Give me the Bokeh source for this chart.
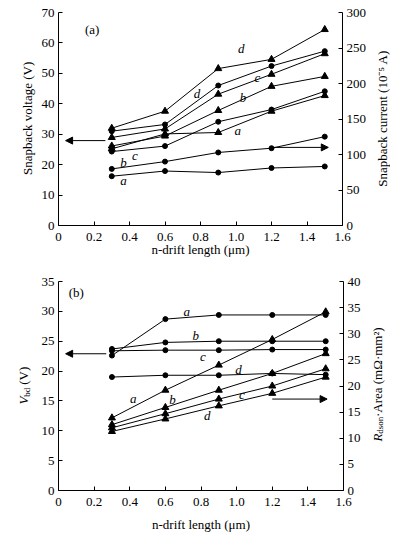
from math import pi
from bokeh.plotting import figure
from bokeh.models import (Range1d, LinearAxis, Label, Arrow, NormalHead,
                          FixedTicker, CustomJSTickFormatter)
from bokeh.layouts import column, row
from bokeh.embed import file_html
from bokeh.resources import INLINE

FONT = "Liberation Serif"

drift = [0.3, 0.6, 0.9, 1.2, 1.5]
x_ticks = [0, 0.2, 0.4, 0.6, 0.8, 1.0, 1.2, 1.4, 1.6]

# (a) snapback voltage (V) - circles, left axis
sv_a = [16.2, 17.9, 17.4, 18.9, 19.4]
sv_b = [18.6, 21.0, 24.0, 25.4, 29.2]
sv_c = [24.3, 26.1, 34.1, 38.1, 44.1]
sv_d = [31.0, 33.2, 46.0, 52.4, 57.3]
# (a) snapback current (1e-5 A) - triangles, right axis
si_a = [108, 129, 131, 161, 183]
si_b = [112, 126, 162, 196, 210]
si_c = [124, 136, 185, 213, 242]
si_d = [137, 161, 221, 234, 276]

# (b) breakdown voltage (V) - circles, left axis
vbd_a = [22.6, 28.7, 29.4, 29.4, 29.4]
vbd_b = [23.7, 24.8, 25.0, 25.0, 25.0]
vbd_c = [23.4, 23.5, 23.5, 23.6, 23.6]
vbd_d = [19.0, 19.3, 19.3, 19.6, 19.4]
# (b) Rdson*Area (mOhm mm^2) - triangles, right axis
ron_a = [13.9, 19.2, 24.0, 28.9, 34.2]
ron_b = [12.6, 15.9, 19.2, 22.4, 26.2]
ron_c = [12.0, 14.7, 17.5, 20.0, 23.3]
ron_d = [11.3, 13.7, 16.2, 18.6, 21.7]

top_left_ticks = list(range(0, 71, 10))
top_right_ticks = list(range(0, 301, 50))
bot_left_ticks = list(range(0, 36, 5))
bot_right_ticks = list(range(0, 41, 5))

LW, MW, RW = 36, 333, 21


def style_axis(ax, ticks, standoff=4):
    ax.ticker = FixedTicker(ticks=ticks)
    ax.axis_line_color = "black"
    ax.axis_line_width = 1
    ax.major_tick_in = 4
    ax.major_tick_out = 0
    ax.minor_tick_in = 0
    ax.minor_tick_out = 0
    ax.major_tick_line_color = "black"
    ax.major_label_text_font = FONT
    ax.major_label_text_font_size = "13px"
    ax.major_label_text_color = "black"
    ax.major_label_standoff = standoff


def make_fig(h, ymax_l, ymax_r, lt, rt, bt, bb, lab_standoff):
    p = figure(width=MW, height=h, x_range=Range1d(0, 1.6),
               y_range=Range1d(0, ymax_l), output_backend="svg",
               toolbar_location=None, min_border_left=22,
               min_border_right=26, min_border_top=bt, min_border_bottom=bb)
    p.extra_y_ranges = {"r": Range1d(0, ymax_r)}
    p.add_layout(LinearAxis(y_range_name="r"), "right")
    p.xgrid.grid_line_color = None
    p.ygrid.grid_line_color = None
    p.outline_line_color = None
    style_axis(p.xaxis[0], x_ticks, 7)
    p.xaxis[0].formatter = CustomJSTickFormatter(
        code="return tick == 0 ? '0' : tick.toFixed(1);")
    style_axis(p.yaxis[0], lt)
    style_axis(p.yaxis[1], rt)
    p.xaxis[0].axis_label = "n-drift length (\u03bcm)"
    p.xaxis[0].axis_label_text_font = FONT
    p.xaxis[0].axis_label_text_font_size = "13px"
    p.xaxis[0].axis_label_text_font_style = "normal"
    p.xaxis[0].axis_label_text_color = "black"
    p.xaxis[0].axis_label_standoff = lab_standoff
    return p


def side_fig(w, h, ymax, bt, bb):
    s = figure(width=w, height=h, x_range=Range1d(0, w),
               y_range=Range1d(0, ymax), x_axis_type=None, y_axis_type=None,
               output_backend="svg", toolbar_location=None,
               min_border_left=0, min_border_right=0, min_border_top=bt,
               min_border_bottom=bb)
    s.grid.visible = False
    s.outline_line_color = None
    return s


def add_series(p, ys, marker, size, rname=None):
    kw = {} if rname is None else {"y_range_name": rname}
    p.line(drift, ys, line_color="black", line_width=1, **kw)
    p.scatter(drift, ys, marker=marker, size=size, fill_color="black",
              line_color="black", **kw)


def txt(p, x, y, s, size="13px", style="normal", angle=0.0, align="center",
        baseline="middle"):
    p.add_layout(Label(x=x, y=y, text=s, text_font=FONT, text_font_size=size,
                       text_font_style=style, text_color="black", angle=angle,
                       text_align=align, text_baseline=baseline))


def arrow(p, x0, x1, y, rname=None):
    kw = {} if rname is None else {"y_range_name": rname}
    p.add_layout(Arrow(end=NormalHead(size=7, fill_color="black",
                                      line_color="black", line_width=1),
                       x_start=x0, y_start=y, x_end=x1, y_end=y,
                       line_color="black", line_width=1, **kw))


# ---------------- (a) ----------------
H1, BT1, BB1 = 270, 12, 45
p1 = make_fig(H1, 70, 300, top_left_ticks, top_right_ticks, BT1, BB1, -2)
for s in (sv_a, sv_b, sv_c, sv_d):
    add_series(p1, s, "circle", 5)
for s in (si_a, si_b, si_c, si_d):
    add_series(p1, s, "triangle", 7, "r")
arrow(p1, 0.264, 0.04, 27.9)
arrow(p1, 1.194, 1.52, 110, "r")
txt(p1, 0.19, 64.4, "(a)")
for x, y, s in [(0.366, 14.8, "a"), (0.366, 20.6, "b"), (0.43, 23.0, "c"),
                (0.78, 43.3, "d"), (1.03, 58.1, "d"), (1.12, 48.8, "c"),
                (1.04, 42.2, "b"), (1.01, 31.2, "a")]:
    txt(p1, x, y, s, style="italic")
l1 = side_fig(LW, H1, 70, BT1, BB1)
txt(l1, 26.7, 35.2, "Snapback voltage (V)", angle=pi / 2)
r1 = side_fig(RW, H1, 70, BT1, BB1)
txt(r1, 12.7, 35.2, "Snapback current (10\u207b\u2075 A)", angle=pi / 2)

# ---------------- (b) ----------------
H2, BT2, BB2 = 264, 11, 42
p2 = make_fig(H2, 35, 40, bot_left_ticks, bot_right_ticks, BT2, BB2, 8)
for s in (vbd_a, vbd_b, vbd_c, vbd_d):
    add_series(p2, s, "circle", 5)
for s in (ron_a, ron_b, ron_c, ron_d):
    add_series(p2, s, "triangle", 7, "r")
arrow(p2, 0.268, 0.04, 22.9)
arrow(p2, 1.20, 1.508, 17.5, "r")
txt(p2, 0.10, 33.2, "(b)")
for x, y, s in [(0.72, 29.9, "a"), (0.77, 26.0, "b"), (0.81, 22.5, "c"),
                (1.01, 20.2, "d"), (0.42, 15.4, "a"), (0.64, 15.2, "b"),
                (1.03, 16.1, "c"), (0.835, 12.5, "d")]:
    txt(p2, x, y, s, style="italic")
l2 = side_fig(LW, H2, 35, BT2, BB2)
# V_bd (V)
txt(l2, 23.0, 14.4, "V", style="italic", angle=pi / 2, align="left")
txt(l2, 26.0, 15.7, "bd", size="9px", angle=pi / 2, align="left")
txt(l2, 23.0, 17.7, "(V)", angle=pi / 2, align="left")
r2 = side_fig(RW, H2, 35, BT2, BB2)
# R_dson . Area (mOhm mm2)
txt(r2, 7.7, 8.2, "R", style="italic", angle=pi / 2, align="left")
txt(r2, 10.7, 9.5, "dson", size="9px", angle=pi / 2, align="left")
txt(r2, 7.7, 12.3, " \u00b7Area (m\u03a9\u00b7mm\u00b2)", angle=pi / 2,
    align="left")

layout = column(row(l1, p1, r1, spacing=0), row(l2, p2, r2, spacing=0),
                spacing=0)
open("out.html", "w").write(file_html(layout, INLINE))
